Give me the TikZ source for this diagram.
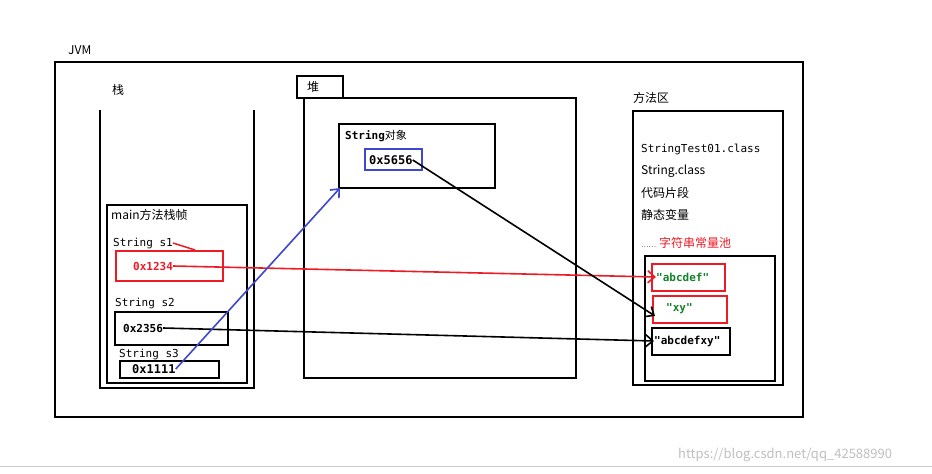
\documentclass[tikz,border=0pt]{standalone}
\usepackage{fontspec}
\setmainfont{Noto Sans CJK SC}
\newfontfamily\mono{DejaVu Sans Mono}
\newfontfamily\cjk{Noto Sans CJK SC}
\definecolor{myred}{RGB}{237,28,36}
\definecolor{mygreen}{RGB}{20,130,40}
\definecolor{myblue}{RGB}{63,72,204}
\tikzset{box/.style={draw,line width=2pt,inner sep=0pt},
 lbl/.style={anchor=west,inner sep=0pt,font=\cjk\fontsize{12}{14}\selectfont},
 code/.style={anchor=west,inner sep=0pt,font=\mono\fontsize{11}{13}\selectfont},
 bcode/.style={code,font=\mono\bfseries\fontsize{11}{13}\selectfont},
 arr/.style={line width=1.6pt,-{Straight Barb[length=7pt,width=12pt]}}}
\usetikzlibrary{arrows.meta}
\begin{document}
\begin{tikzpicture}[x=1pt,y=-1pt]
\useasboundingbox (0,0) rectangle (932,474);
\fill[white] (0,0) rectangle (932,474);
\node[lbl] (jvm) at (68,50) {JVM};
\draw[line width=2pt] (55,62) rectangle (803,417);
% stack
\node[lbl] (stk) at (112,90) {栈};
\draw[line width=2pt] (100,110) -- (100,388) -- (254,388) -- (254,110);
\draw[line width=2pt] (107,205) rectangle (247,383);
\node[lbl] (mf) at (111,215) {main方法栈帧};
\node[code] (s1) at (113,243) {String s1};
\draw[box,myred] (116,251) rectangle (223,281);
\node[bcode,text=myred] (a1) at (133,266) {0x1234};
\draw[myred,line width=1.5pt] (s1.east) -- (195,250);
\node[code] (s2) at (115,303) {String s2};
\draw[box] (115,312) rectangle (228,345);
\node[bcode] (a2) at (123,328) {0x2356};
\node[code] (s3) at (119,354) {String s3};
\draw[box] (120,361) rectangle (219,378);
\node[bcode,font=\mono\bfseries\fontsize{12}{13}\selectfont] (a3) at (132,369) {0x1111};
% heap
\draw[box] (297,76) rectangle (343,98);
\node[lbl] (heap) at (307,87) {堆};
\draw[box] (304,98) rectangle (576,378);
\draw[box] (339,124) rectangle (495,188);
\node[bcode] (so) at (345,136) {String{\cjk\mdseries 对象}};
\draw[box,myblue] (365,149) rectangle (422,170);
\node[bcode,font=\mono\bfseries\fontsize{12}{13}\selectfont] (o) at (369,160) {0x5656};
% method area
\node[lbl] (ma) at (633,98) {方法区};
\draw[box] (633,111) rectangle (783,385);
\node[code,font=\mono\fontsize{11}{13}\selectfont] (t1) at (641,149) {StringTest01.class};
\node[lbl] (t2) at (641,171) {String.class};
\node[lbl] (t3) at (641,193) {代码片段};
\node[lbl] (t4) at (641,215) {静态变量};
\node[lbl] (t5) at (641,243) {\fontsize{7}{7}\selectfont ……\ \ \textcolor{myred}{\fontsize{12}{14}\selectfont 字符串常量池}};
\draw[box] (645,256) rectangle (775,381);
\draw[box,myred] (652,264) rectangle (725,291);
\node[bcode,text=mygreen] (p1) at (656,277) {"abcdef"};
\draw[box,myred] (653,296) rectangle (727,323);
\node[bcode,text=mygreen] (p2) at (666,309) {"xy"};
\draw[box] (652,328) rectangle (730,355);
\node[bcode] (p3) at (654,341) {"abcdefxy"};
% arrows
\draw[arr,myred] (a1.east) -- (p1.west);
\draw[arr] (a2.east) -- (p3.west);
\draw[arr,myblue] (a3.east) -- (340,188);
\draw[arr] (o.east) -- (655,316);
% footer
\draw[gray!40,line width=0.6pt] (0,466) -- (932,466);
\node[lbl,text=gray!50,font=\fontsize{13}{15}\selectfont] (wm) at (678,455) {https://blog.csdn.net/qq\_42588990};
\end{tikzpicture}
\end{document}
